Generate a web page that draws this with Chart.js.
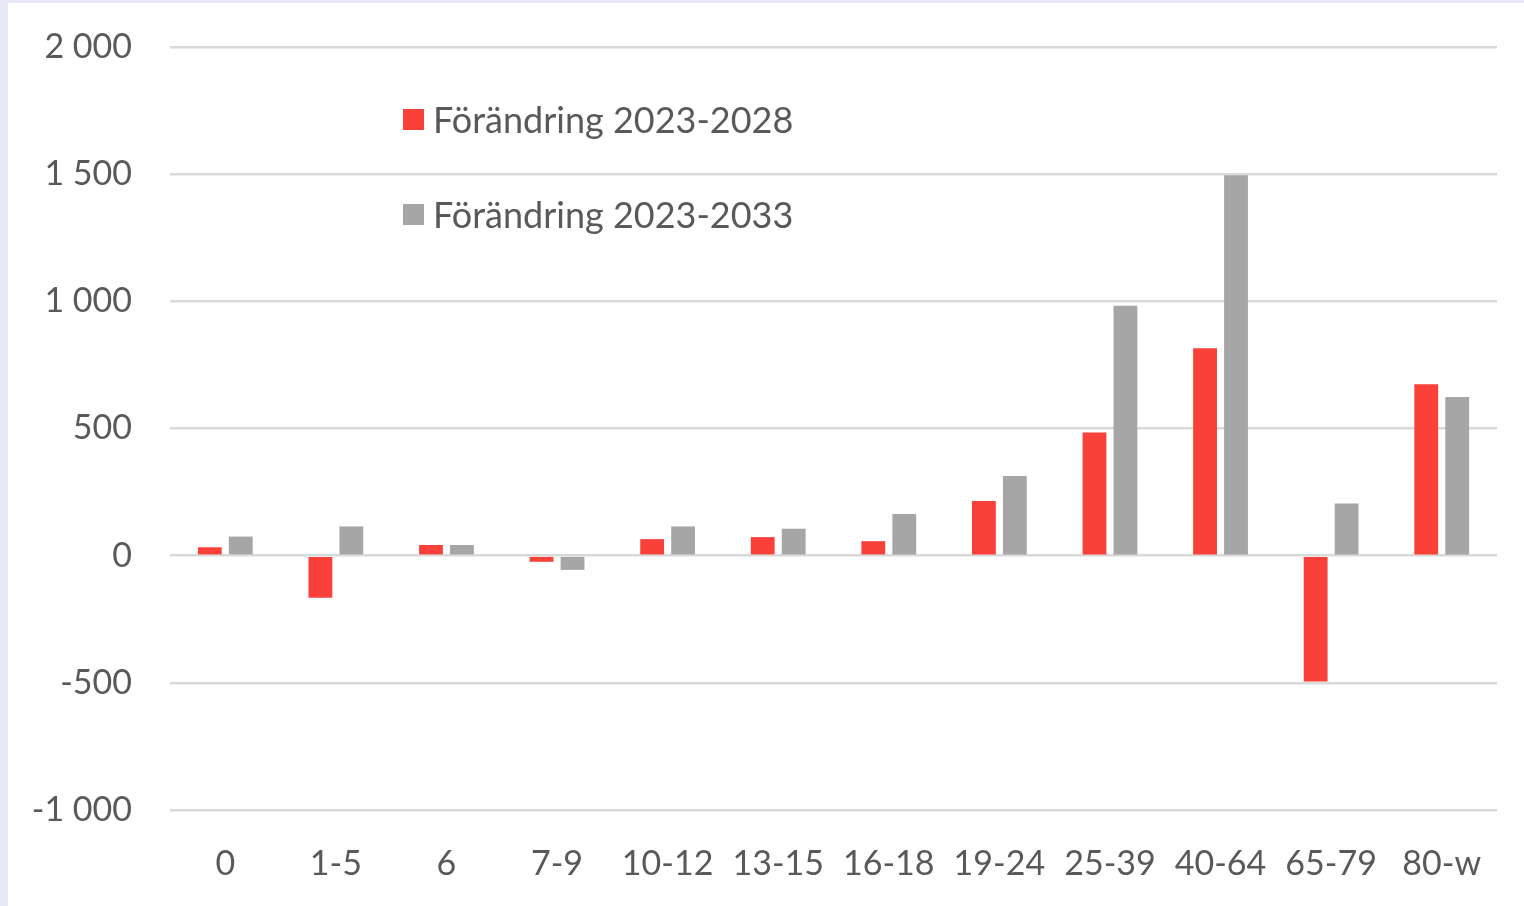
<!DOCTYPE html>
<html lang="sv">
<head>
<meta charset="utf-8">
<title>Förändring per åldersgrupp</title>
<script src="https://cdn.jsdelivr.net/npm/chart.js@4.4.1/dist/chart.umd.min.js"></script>
<style>
    html, body {
        margin: 0;
        padding: 0;
        width: 1524px;
        height: 906px;
        background: #e6e9f5;
        overflow: hidden;
    }
    #wrap {
        position: absolute;
        left: 8px;
        top: 3px;
        width: 1516px;
        height: 903px;
        background: #ffffff;
    }
    #wrap canvas {
        display: block;
    }
    #legend {
        position: absolute;
        left: 395px;
        top: 92px;
        font-family: Lato, "Open Sans", sans-serif;
        font-size: 36px;
        color: #595959;
    }
    .item {
        display: flex;
        align-items: center;
        height: 48px;
        margin-bottom: 47px;
    }
    .box {
        width: 21px;
        height: 21px;
        margin-right: 9px;
    }
</style>
</head>
<body>
<div id="wrap">
    <canvas id="chart" width="1516" height="903"></canvas>
    <div id="legend"></div>
</div>
<script>
// åldersgrupper
const ageGroups = ['0', '1-5', '6', '7-9', '10-12', '13-15', '16-18', '19-24', '25-39', '40-64', '65-79', '80-w'];

// förändring (antal personer)
const change2028 = [33, -165, 42, -24, 65, 73, 57, 215, 484, 816, -495, 674];
const change2033 = [75, 115, 42, -56, 115, 106, 164, 313, 983, 1496, 205, 624];

// y-axelns skala
const yMin = -1000;
const yMax = 2000;
const yStep = 500;

const seriesNames = ['Förändring 2023-2028', 'Förändring 2023-2033'];
const seriesColors = ['#fa4139', '#a6a6a6'];

// tusentalsavgränsare med mellanslag
function formatTick(v) {
    const s = String(Math.abs(v)).replace(/\B(?=(\d{3})+(?!\d))/g, ' ');
    return (v < 0 ? '-' : '') + s;
}

const textColor = '#595959';
const fontFamily = 'Lato, "Open Sans", sans-serif';

const ctx = document.getElementById('chart').getContext('2d');

new Chart(ctx, {
    type: 'bar',
    data: {
        labels: ageGroups,
        datasets: [
            {
                label: seriesNames[0],
                data: change2028,
                backgroundColor: seriesColors[0],
                categoryPercentage: 0.56,
                barPercentage: 0.77
            },
            {
                label: seriesNames[1],
                data: change2033,
                backgroundColor: seriesColors[1],
                categoryPercentage: 0.56,
                barPercentage: 0.77
            }
        ]
    },
    options: {
        responsive: false,
        animation: false,
        layout: {
            padding: { top: 44, right: 27, bottom: 0, left: 0 }
        },
        plugins: {
            legend: { display: false },
            tooltip: { enabled: false }
        },
        scales: {
            x: {
                grid: { display: false },
                border: { display: false },
                ticks: {
                    color: textColor,
                    font: { family: fontFamily, size: 34 },
                    padding: 26,
                    maxRotation: 0,
                    autoSkip: false
                },
                afterFit: function(scale) {
                    scale.height = 96;
                }
            },
            y: {
                min: yMin,
                max: yMax,
                grid: {
                    color: '#d9d9d9',
                    lineWidth: 2.5,
                    drawTicks: false
                },
                border: { display: false },
                ticks: {
                    stepSize: yStep,
                    color: textColor,
                    font: { family: fontFamily, size: 34 },
                    padding: 38,
                    callback: function(value) {
                        return formatTick(value);
                    }
                },
                afterFit: function(scale) {
                    // fast bredd, och ingen extra luft ovanför/under
                    scale.width = 162;
                    scale.paddingTop = 0;
                    scale.paddingBottom = 0;
                }
            }
        }
    }
});

// förklaring
const legend = document.getElementById('legend');
seriesNames.forEach(function(name, i) {
    const item = document.createElement('div');
    item.className = 'item';
    item.innerHTML = '<div class="box" style="background:' + seriesColors[i] + '"></div><span>' + name + '</span>';
    legend.appendChild(item);
});
</script>
</body>
</html>
